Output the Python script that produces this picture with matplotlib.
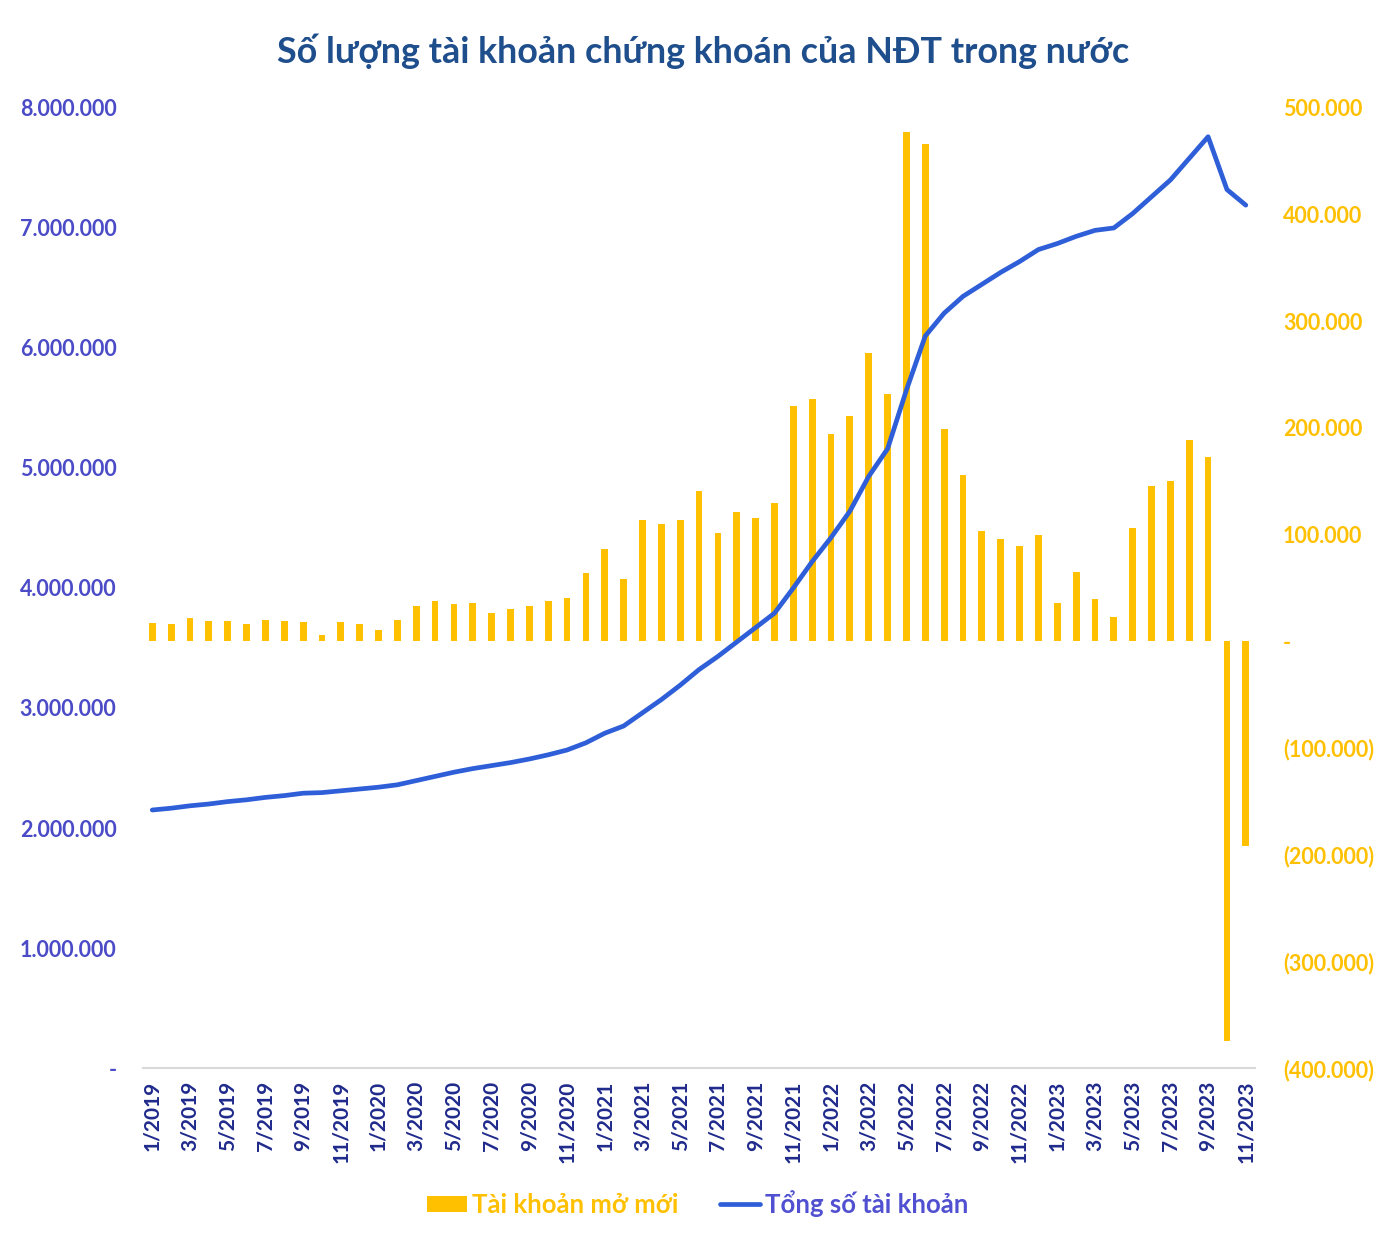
import matplotlib
matplotlib.use("Agg")
import matplotlib.pyplot as plt
from matplotlib.ticker import FuncFormatter, FixedLocator
import numpy as np

plt.rcParams['font.family'] = ['Lato', 'DejaVu Sans']

months = [f"{m}/{y}" for y in range(2019, 2024) for m in range(1, 13)][:59]

new_accounts = [
    17000, 16000, 22000, 19000, 19000, 16000, 20000, 19000, 18000, 6000, 18000, 16000,
    11000, 20000, 33000, 38000, 35000, 36000, 27000, 30000, 33000, 38000, 41000, 64000,
    87000, 58000, 114000, 110000, 114000, 141000, 102000, 121000, 116000, 130000, 221000, 227000,
    194000, 211000, 270000, 232000, 477000, 466000, 199000, 156000, 103000, 96000, 89000, 100000,
    36000, 65000, 40000, 23000, 106000, 146000, 150000, 189000, 173000, -375000, -192000,
]

total_accounts = [
    2150000, 2165000, 2185000, 2200000, 2220000, 2235000, 2255000, 2270000, 2290000, 2295000, 2310000, 2325000,
    2340000, 2360000, 2395000, 2430000, 2465000, 2495000, 2520000, 2545000, 2575000, 2610000, 2650000, 2710000,
    2790000, 2850000, 2960000, 3070000, 3190000, 3320000, 3430000, 3550000, 3670000, 3790000, 4000000, 4220000,
    4420000, 4640000, 4930000, 5160000, 5650000, 6100000, 6290000, 6430000, 6530000, 6630000, 6720000, 6820000,
    6870000, 6930000, 6980000, 7000000, 7120000, 7260000, 7400000, 7580000, 7760000, 7320000, 7190000,
]

left_ticks = [0, 1000000, 2000000, 3000000, 4000000, 5000000, 6000000, 7000000, 8000000]
right_ticks = [-400000, -300000, -200000, -100000, 0, 100000, 200000, 300000, 400000, 500000]

BAR_C = "#FFC000"
LINE_C = "#2F5FD8"
LEFT_TXT = "#4B4BC8"
XTXT = "#1F2A8C"
TITLE_C = "#1F4E8C"


def fmt_num(v, pos=None):
    if abs(v) < 0.5:
        return "-"
    s = f"{abs(int(round(v))):,}".replace(",", ".")
    return f"({s})" if v < 0 else s


fig = plt.figure(figsize=(13.87, 12.38), dpi=100)
axR = fig.add_axes([0.103, 0.1373, 0.802, 0.7755])
axL = axR.twinx()
axL.yaxis.tick_left()
axR.yaxis.tick_right()

x = np.arange(len(months))
axR.bar(x, new_accounts, width=0.36, color=BAR_C, label="Tài khoản mở mới", zorder=2)
axL.plot(x, total_accounts, color=LINE_C, lw=3.4, solid_capstyle='round',
         solid_joinstyle='round', label="Tổng số tài khoản", zorder=3)

axR.set_xlim(-0.5, 58.5)
axR.set_ylim(-400000, 500000)
axL.set_ylim(0, 8000000)

axR.yaxis.set_major_locator(FixedLocator(right_ticks))
axR.yaxis.set_major_formatter(FuncFormatter(fmt_num))
axL.yaxis.set_major_locator(FixedLocator(left_ticks))
axL.yaxis.set_major_formatter(FuncFormatter(fmt_num))

axR.set_xticks(x[::2])
axR.set_xticklabels(months[::2], rotation=90, fontsize=15, fontweight='bold', color=XTXT)
axR.tick_params(axis='x', length=0, pad=9)
axR.tick_params(axis='y', length=0, pad=20, labelsize=15.5, labelcolor=BAR_C)
axL.tick_params(axis='y', length=0, pad=19, labelsize=15.5, labelcolor=LEFT_TXT)
for lab in axR.get_yticklabels():
    lab.set_fontweight('bold')
    lab.set_horizontalalignment('left')
for lab in axL.get_yticklabels():
    lab.set_fontweight('bold')

for ax in (axR, axL):
    for s in ax.spines.values():
        s.set_visible(False)
axR.spines['bottom'].set_visible(True)
axR.spines['bottom'].set_color("#D9D9D9")
axR.spines['bottom'].set_linewidth(1.5)
axR.patch.set_visible(False)

fig.text(0.507, 0.959, "Số lượng tài khoản chứng khoán của NĐT trong nước",
         ha='center', va='center', fontsize=25.8, fontweight='bold', color=TITLE_C)

h1, l1 = axR.get_legend_handles_labels()
h2, l2 = axL.get_legend_handles_labels()
leg = fig.legend(h1 + h2, l1 + l2, loc='center', bbox_to_anchor=(0.503, 0.028), ncol=2,
                 frameon=False, handlelength=1.55, handleheight=0.6, handletextpad=0.2,
                 columnspacing=1.6, prop={'weight': 'bold', 'size': 18.5})
leg.get_texts()[0].set_color(BAR_C)
leg.get_texts()[1].set_color("#5050D0")

fig.savefig("out.png", dpi=100)
